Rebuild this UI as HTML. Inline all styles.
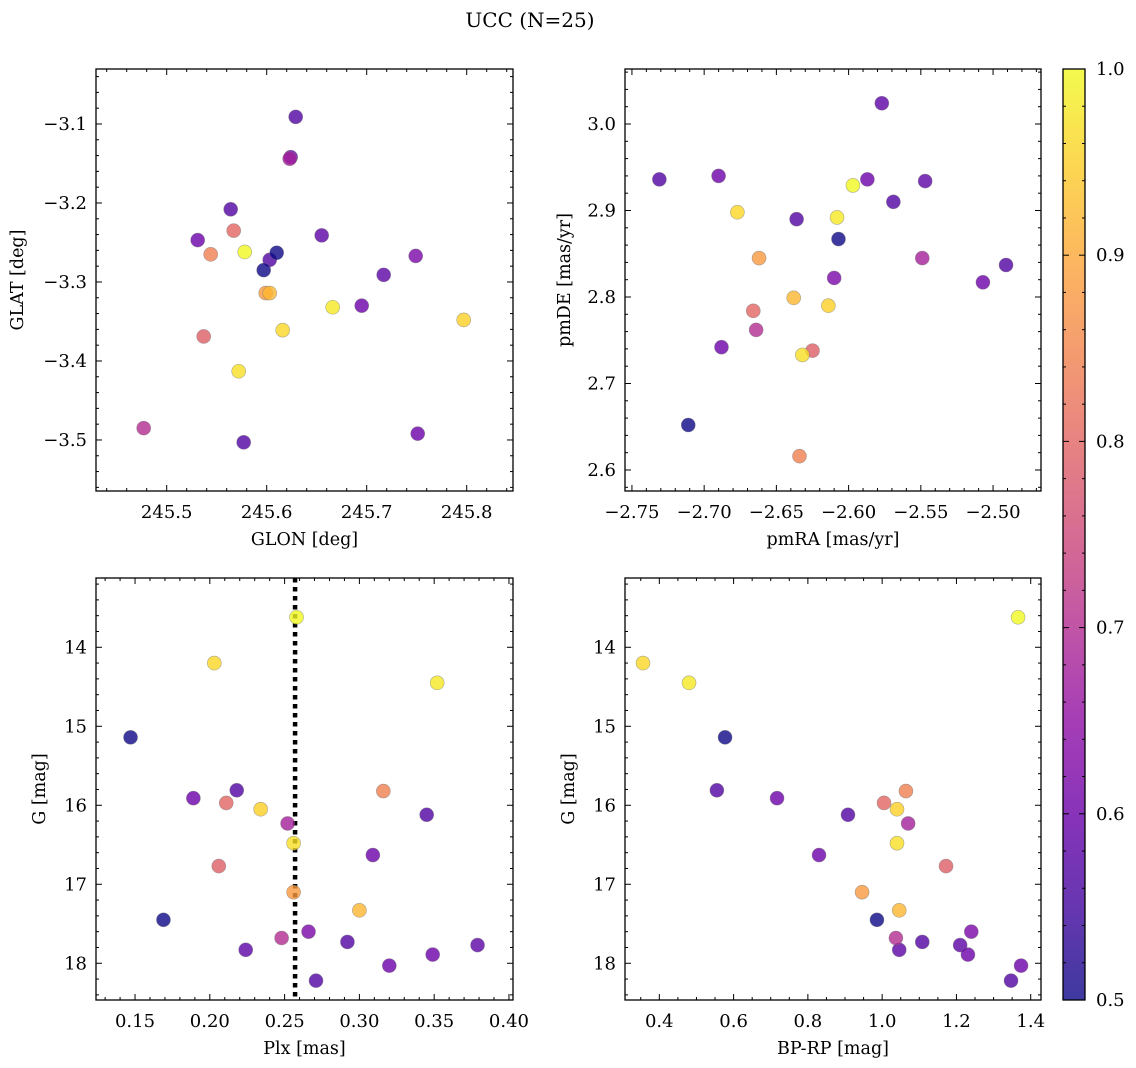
<!DOCTYPE html>
<html><head><meta charset="utf-8"><style>
body{margin:0;background:#fff;}
svg{display:block;font-family:"DejaVu Serif","Liberation Serif",serif;}
</style></head><body>
<svg id="fig" width="1136" height="1068" viewBox="0 0 1136 1068">
<text x="530" y="27" font-size="20" text-anchor="middle">UCC (N=25)</text>
</svg>
<script>
const glon=[245.629,245.624,245.564,245.531,245.567,245.544,245.578,245.655,245.603,245.597,245.610,245.749,245.717,245.623,245.599,245.603,245.616,245.666,245.695,245.537,245.797,245.572,245.477,245.577,245.751];
const glat=[-3.091,-3.142,-3.208,-3.247,-3.235,-3.265,-3.262,-3.241,-3.272,-3.285,-3.263,-3.267,-3.291,-3.144,-3.314,-3.314,-3.361,-3.332,-3.330,-3.369,-3.348,-3.413,-3.485,-3.503,-3.492];
const pmra=[-2.731,-2.690,-2.636,-2.587,-2.666,-2.634,-2.597,-2.577,-2.569,-2.607,-2.711,-2.610,-2.547,-2.549,-2.662,-2.638,-2.677,-2.608,-2.507,-2.625,-2.614,-2.632,-2.664,-2.491,-2.688];
const pmde=[2.936,2.940,2.890,2.936,2.784,2.616,2.929,3.024,2.910,2.867,2.652,2.822,2.934,2.845,2.845,2.799,2.898,2.892,2.817,2.738,2.790,2.733,2.762,2.837,2.742];
const plx=[0.218,0.189,0.345,0.309,0.211,0.316,0.258,0.224,0.292,0.147,0.169,0.266,0.379,0.252,0.256,0.300,0.203,0.352,0.349,0.206,0.234,0.256,0.248,0.271,0.320];
const gmag=[15.81,15.91,16.12,16.63,15.97,15.82,13.62,17.83,17.73,15.14,17.45,17.60,17.77,16.23,17.10,17.33,14.20,14.45,17.89,16.77,16.05,16.48,17.68,18.22,18.03];
const bprp=[0.555,0.717,0.908,0.830,1.005,1.064,1.366,1.046,1.108,0.577,0.986,1.240,1.210,1.070,0.946,1.046,0.356,0.480,1.231,1.172,1.040,1.040,1.037,1.347,1.374];
const prob=[0.57,0.60,0.57,0.60,0.80,0.84,1.00,0.58,0.57,0.50,0.50,0.62,0.58,0.68,0.88,0.92,0.96,0.98,0.60,0.79,0.95,0.97,0.70,0.57,0.60];
const plxLine=0.257;
const cbTicks=[0.5,0.6,0.7,0.8,0.9,1.0];

const NS='http://www.w3.org/2000/svg';
const svg=document.getElementById('fig');
function el(tag,attrs,parent){const e=document.createElementNS(NS,tag);for(const k in attrs)e.setAttribute(k,attrs[k]);(parent||svg).appendChild(e);return e;}
const stops=[[13,8,135],[65,4,157],[106,0,168],[143,13,164],[177,42,144],[204,71,120],[225,100,98],[242,132,75],[252,166,54],[252,206,37],[240,249,33]];
function cmap(v){let t=Math.max(0,Math.min(1,(v-0.5)/0.5))*10;let i=Math.min(9,Math.floor(t));let f=t-i;const a=stops[i],b=stops[i+1];
 return 'rgb('+a.map((c,k)=>Math.round(c+(b[k]-c)*f)).join(',')+')';}
function fmt(v,d){const s=Math.abs(v).toFixed(d);return (v<-1e-9?'\u2212':'')+s;}

function panel(cfg){
 const {L,R,T,B,x0,x1,y0,y1,xs,ys,name}=cfg;
 const sx=v=>L+(v-x0)/(x1-x0)*(R-L);
 const sy=v=>T+(y1-v)/(y1-y0)*(B-T);
 const g=el('g',{});
 
 
 const tk=(major,minor,lo,hi,f)=>{for(let v=Math.ceil(lo/minor-1e-6)*minor;v<=hi+1e-9;v+=minor){const isM=Math.abs(v/major-Math.round(v/major))<1e-4;f(v,isM);}};
 tk(cfg.xmaj,cfg.xmin,Math.min(x0,x1),Math.max(x0,x1),(v,m)=>{const x=sx(v);const l=m?6:3;
  el('line',{x1:x,x2:x,y1:B,y2:B-l,stroke:'#000','stroke-width':1},g);el('line',{x1:x,x2:x,y1:T,y2:T+l,stroke:'#000','stroke-width':1},g);
  if(m){const t=el('text',{x:x,y:B+27,'font-size':18,'text-anchor':'middle'},g);t.textContent=fmt(v,cfg.xd);
   }});
 tk(cfg.ymaj,cfg.ymin,Math.min(y0,y1),Math.max(y0,y1),(v,m)=>{const y=sy(v);const l=m?6:3;
  el('line',{x1:L,x2:L+l,y1:y,y2:y,stroke:'#000','stroke-width':1},g);el('line',{x1:R,x2:R-l,y1:y,y2:y,stroke:'#000','stroke-width':1},g);
  if(m){const t=el('text',{x:L-9,y:y+6,'font-size':18,'text-anchor':'end'},g);t.textContent=fmt(v,cfg.yd);
   }});
 if(cfg.vline!==undefined){const l=el('line',{x1:sx(cfg.vline),x2:sx(cfg.vline),y1:T,y2:B,stroke:'#000','stroke-width':4.5,'stroke-dasharray':'4.5 4.5'},g);
  }
 for(let i=0;i<xs.length;i++){const c=el('circle',{cx:sx(xs[i]),cy:sy(ys[i]),r:7,fill:cmap(prob[i]),'fill-opacity':0.8,stroke:'#777','stroke-opacity':0.6,'stroke-width':0.6},g);
  }
 el('rect',{x:L,y:T,width:R-L,height:B-T,fill:'none',stroke:'#000','stroke-width':1.3},g);
 const xl=el('text',{x:(L+R)/2,y:B+54,'font-size':17.5,'text-anchor':'middle'},g);xl.textContent=cfg.xlabel;
 
 const yx=cfg.ylx;const yl=el('text',{x:yx,y:(T+B)/2,'font-size':17.5,'text-anchor':'middle',transform:'rotate(-90 '+yx+' '+(T+B)/2+')'},g);yl.textContent=cfg.ylabel;
 
}
panel({name:'glon-glat-panel',L:96,R:513,T:69,B:491,x0:245.4293,x1:245.8463,y0:-3.5646,y1:-3.0304,xs:glon,ys:glat,xmaj:0.1,xmin:0.02,ymaj:0.1,ymin:0.02,xd:1,yd:1,xlabel:'GLON [deg]',ylabel:'GLAT [deg]',ylx:23});
panel({name:'pm-panel',L:625,R:1041,T:69,B:491,x0:-2.7548,x1:-2.4668,y0:2.5757,y1:3.0636,xs:pmra,ys:pmde,xmaj:0.05,xmin:0.01,ymaj:0.1,ymin:0.02,xd:2,yd:1,xlabel:'pmRA [mas/yr]',ylabel:'pmDE [mas/yr]',ylx:570});
panel({name:'plx-g-panel',L:96,R:513,T:578,B:1000,x0:0.1239,x1:0.4027,y0:18.465,y1:13.123,xs:plx,ys:gmag,xmaj:0.05,xmin:0.01,ymaj:1,ymin:0.2,xd:2,yd:0,xlabel:'Plx [mas]',ylabel:'G [mag]',ylx:45,vline:plxLine});
panel({name:'cmd-panel',L:625,R:1041,T:578,B:1000,x0:0.3076,x1:1.4277,y0:18.465,y1:13.123,xs:bprp,ys:gmag,xmaj:0.2,xmin:0.05,ymaj:1,ymin:0.2,xd:1,yd:0,xlabel:'BP-RP [mag]',ylabel:'G [mag]',ylx:574});
(function(){
 const L=1063,R=1085,T=69,B=1000;
 const g=el('g',{});
 
 
 const defs=el('defs',{},g);
 const lg=el('linearGradient',{id:'cbg',x1:0,y1:1,x2:0,y2:0},defs);
 for(let k=0;k<=20;k++){el('stop',{offset:(k/20),'stop-color':cmap(0.5+0.5*k/20)},lg);}
 el('rect',{x:L,y:T,width:R-L,height:B-T,fill:'url(#cbg)','fill-opacity':0.8},g);
 const sy=v=>B-(v-0.5)/0.5*(B-T);
 for(let k=0;k<=25;k++){const v=0.5+k*0.02;const y=sy(v);const m=k%5===0;const l=m?6:3;
  el('line',{x1:L,x2:L+l,y1:y,y2:y,stroke:'#000'},g);el('line',{x1:R,x2:R-l,y1:y,y2:y,stroke:'#000'},g);}
 cbTicks.forEach(v=>{const t=el('text',{x:R+11,y:sy(v)+6,'font-size':18},g);t.textContent=v.toFixed(1);
  });
 el('rect',{x:L,y:T,width:R-L,height:B-T,fill:'none',stroke:'#000','stroke-width':1.3},g);
})();
</script>
</body></html>
